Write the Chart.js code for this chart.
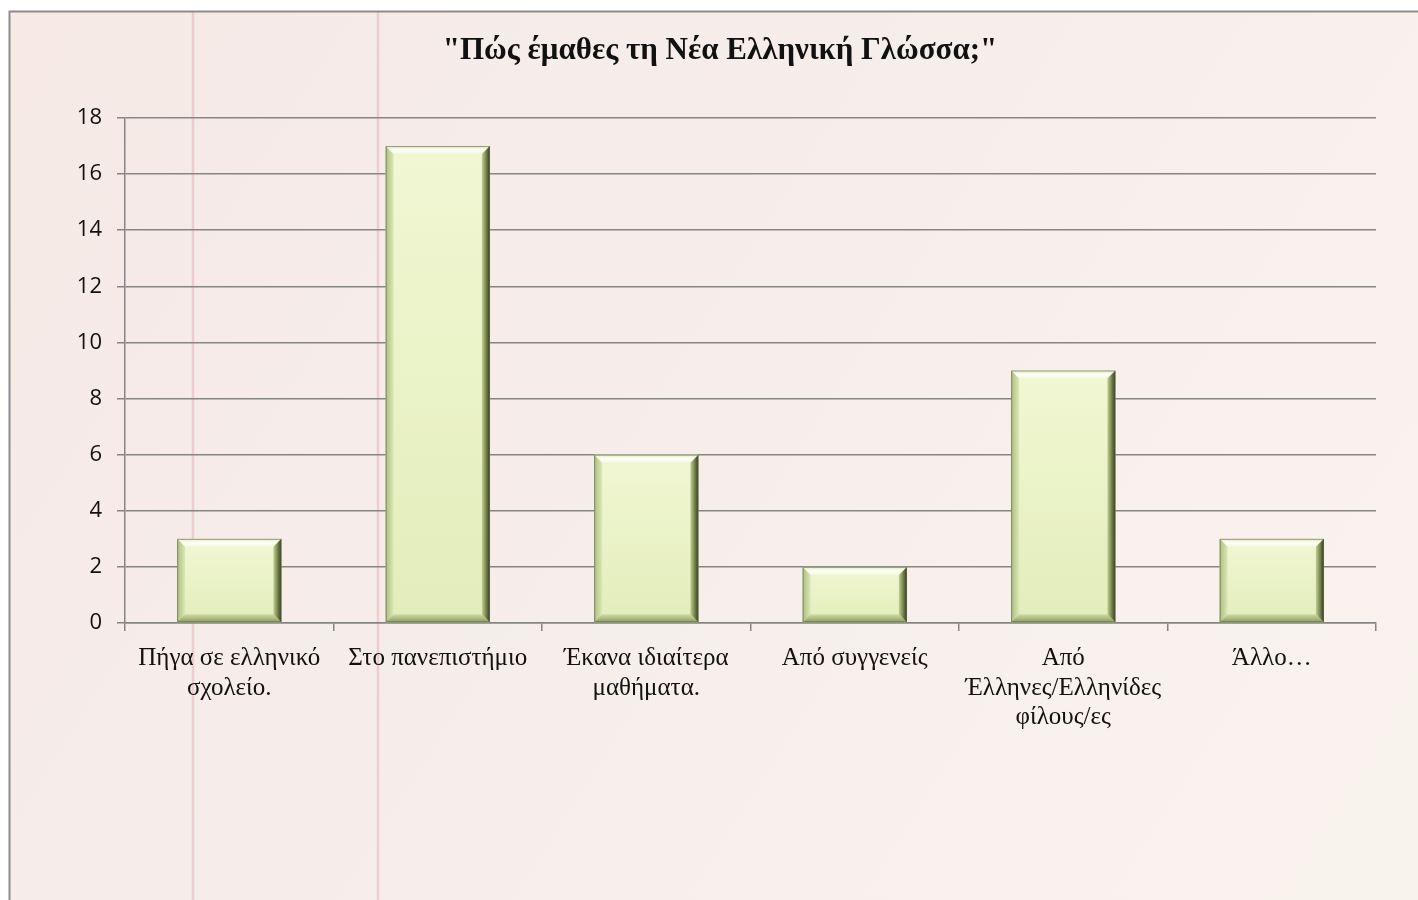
<!DOCTYPE html>
<html>
<head>
<meta charset="utf-8">
<script src="https://cdn.jsdelivr.net/npm/chart.js@4/dist/chart.umd.min.js"></script>
<style>
  html, body { margin: 0; padding: 0; background: #fff; }
  #wrap { width: 1418px; height: 900px; position: relative; }
</style>
</head>
<body>
<div id="wrap"><canvas id="chart" width="1418" height="900"></canvas></div>
<script>
/* DATA */
const categories = [
  ["Πήγα σε ελληνικό", "σχολείο."],
  "Στο πανεπιστήμιο",
  ["Έκανα ιδιαίτερα", "μαθήματα."],
  "Από συγγενείς",
  ["Από", "Έλληνες/Ελληνίδες", "φίλους/ες"],
  "Άλλο…"
];
const counts = [3, 17, 6, 2, 9, 3];
const yTicks = [0, 2, 4, 6, 8, 10, 12, 14, 16, 18];
const chartTitle = "\"Πώς έμαθες τη Νέα Ελληνική Γλώσσα;\"";

const GRID = "#858585";

/* paper background, margin lines and frame */
const paperPlugin = {
  id: "paper",
  beforeDraw(chart) {
    const ctx = chart.ctx;
    const W = chart.width, H = chart.height;
    ctx.save();
    ctx.fillStyle = "#ffffff";
    ctx.fillRect(0, 0, W, H);
    const g = ctx.createLinearGradient(0, 0, W, H);
    g.addColorStop(0, "#f6e9e6");
    g.addColorStop(0.5, "#f6eeeb");
    g.addColorStop(1, "#f9f3ee");
    ctx.fillStyle = g;
    ctx.fillRect(10, 12, W - 10, H - 12);
    // faint notebook margin lines
    ctx.strokeStyle = "rgba(226,176,178,0.5)";
    ctx.lineWidth = 2.5;
    [193, 378].forEach(x => {
      ctx.beginPath();
      ctx.moveTo(x, 12);
      ctx.lineTo(x, H);
      ctx.stroke();
    });
    // frame
    ctx.strokeStyle = "#8c8c8c";
    ctx.lineWidth = 2;
    ctx.beginPath();
    ctx.moveTo(9.5, H);
    ctx.lineTo(9.5, 11.5);
    ctx.lineTo(W, 11.5);
    ctx.stroke();
    ctx.restore();
  }
};

/* bevelled bars */
const bevelPlugin = {
  id: "bevel",
  afterDatasetsDraw(chart) {
    const ctx = chart.ctx;
    const meta = chart.getDatasetMeta(0);
    meta.data.forEach(bar => {
      const l = bar.x - bar.width / 2, r = bar.x + bar.width / 2;
      const t = bar.y, b = bar.base;
      const e = 8;
      ctx.save();
      // face
      const face = ctx.createLinearGradient(0, t, 0, b);
      face.addColorStop(0, "#f1f7d3");
      face.addColorStop(1, "#e3edbb");
      ctx.fillStyle = face;
      ctx.fillRect(l, t, r - l, b - t);
      const quad = (pts, fill) => {
        ctx.beginPath();
        ctx.moveTo(pts[0][0], pts[0][1]);
        for (let i = 1; i < pts.length; i++) ctx.lineTo(pts[i][0], pts[i][1]);
        ctx.closePath();
        ctx.fillStyle = fill;
        ctx.fill();
      };
      // top highlight
      const tg = ctx.createLinearGradient(0, t, 0, t + e);
      tg.addColorStop(0, "#e2ecc0");
      tg.addColorStop(0.5, "#fefff8");
      tg.addColorStop(1, "#f3f8de");
      quad([[l, t], [r, t], [r - e, t + e], [l + e, t + e]], tg);
      // left
      const lg = ctx.createLinearGradient(l, 0, l + e, 0);
      lg.addColorStop(0, "#aebb82");
      lg.addColorStop(1, "#dde9b4");
      quad([[l, t], [l + e, t + e], [l + e, b - e], [l, b]], lg);
      // bottom
      const bg = ctx.createLinearGradient(0, b - e, 0, b);
      bg.addColorStop(0, "#cfdca3");
      bg.addColorStop(1, "#8e9b62");
      quad([[l, b], [l + e, b - e], [r - e, b - e], [r, b]], bg);
      // right shadow
      const rg = ctx.createLinearGradient(r - e, 0, r, 0);
      rg.addColorStop(0, "#c3d093");
      rg.addColorStop(0.5, "#7c8852");
      rg.addColorStop(1, "#343b22");
      quad([[r, t], [r, b], [r - e, b - e], [r - e, t + e]], rg);
      // outline
      ctx.strokeStyle = "rgba(90,100,60,0.6)";
      ctx.lineWidth = 1;
      ctx.strokeRect(l + 0.5, t + 0.5, r - l - 1, b - t - 1);
      ctx.restore();
    });
  }
};

new Chart(document.getElementById("chart"), {
  type: "bar",
  data: {
    labels: categories,
    datasets: [{
      data: counts,
      backgroundColor: "rgba(0,0,0,0)",
      borderWidth: 0,
      barPercentage: 0.5,
      categoryPercentage: 1.0
    }]
  },
  options: {
    responsive: false,
    animation: false,
    layout: { padding: { left: 64, right: 42, top: 0, bottom: 0 } },
    plugins: {
      legend: { display: false },
      tooltip: { enabled: false },
      title: {
        display: true,
        text: chartTitle,
        color: "#111",
        font: { family: "'Liberation Serif', 'DejaVu Serif', serif", size: 31, weight: "bold", lineHeight: 1.2 },
        padding: { top: 32, bottom: 48.8 }
      }
    },
    scales: {
      x: {
        offset: true,
        afterFit(scale) { scale.height = 277; },
        border: { display: true, color: GRID, width: 1.5 },
        grid: {
          offset: true,
          drawOnChartArea: false,
          drawTicks: true,
          tickLength: 8,
          tickColor: GRID,
          lineWidth: 1.5
        },
        ticks: {
          autoSkip: false,
          maxRotation: 0,
          minRotation: 0,
          padding: 13,
          color: "#111",
          font: { family: "'Liberation Serif', 'DejaVu Serif', serif", size: 25, lineHeight: 1.18 }
        }
      },
      y: {
        min: 0,
        max: 18,
        afterFit(scale) { scale.width = 61; },
        afterBuildTicks(scale) { scale.ticks = yTicks.map(v => ({ value: v })); },
        border: { display: true, color: GRID, width: 1.5 },
        grid: {
          color: GRID,
          lineWidth: 1.5,
          tickLength: 8,
          tickColor: GRID
        },
        ticks: {
          padding: 15,
          color: "#111",
          font: { family: "'Open Sans', 'Liberation Sans', sans-serif", size: 22 }
        }
      }
    }
  },
  plugins: [paperPlugin, bevelPlugin]
});
</script>
</body>
</html>
